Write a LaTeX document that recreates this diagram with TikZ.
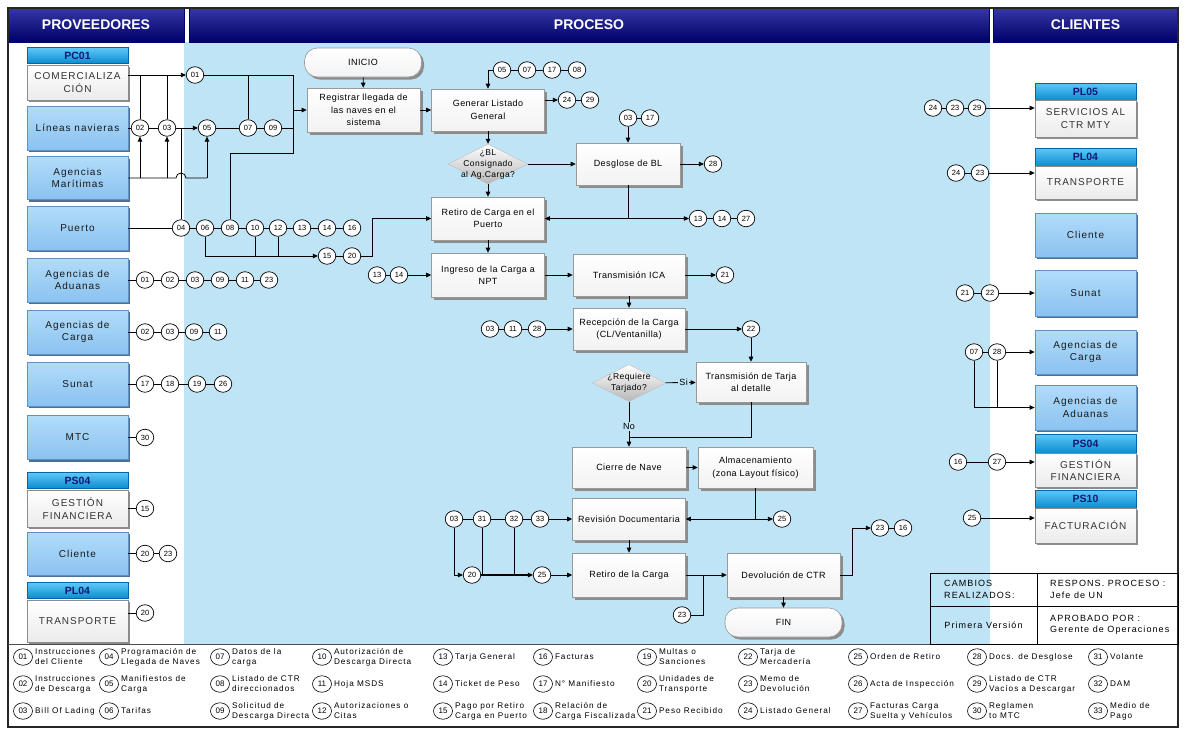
\documentclass[tikz,border=0pt]{standalone}
\usepackage{fontspec}
\setmainfont{Liberation Sans}
\newfontfamily\boxfont[LetterSpace=10]{Liberation Sans}
\newfontfamily\procfont[LetterSpace=5]{Liberation Sans}
\newfontfamily\legfont[LetterSpace=12]{Liberation Sans}
\usetikzlibrary{arrows.meta,shapes.geometric,shadows}

\definecolor{procbg}{RGB}{190,228,246}
\definecolor{hdrtop}{RGB}{55,55,165}
\definecolor{hdrbot}{RGB}{0,0,105}
\definecolor{supTop}{RGB}{178,220,250}
\definecolor{supBot}{RGB}{138,194,240}
\definecolor{supEdge}{RGB}{95,145,195}
\definecolor{supShadow}{RGB}{80,110,150}
\definecolor{tabTop}{RGB}{95,200,245}
\definecolor{tabBot}{RGB}{10,140,210}
\definecolor{tabEdge}{RGB}{0,100,170}
\definecolor{tabText}{RGB}{15,25,115}

\tikzset{
  conn/.style={line width=0.8pt, draw=black},
  arr/.style={conn, -{Triangle[length=5pt,width=4.5pt]}},
  hdr/.style={rectangle, top color=hdrtop, bottom color=hdrbot, draw=hdrbot,
    minimum height=34pt, text=white, inner sep=0pt,
    font=\bfseries\fontsize{14}{16}\selectfont},
  sup/.style={rectangle, top color=supTop, bottom color=supBot, draw=supEdge,
    line width=0.8pt, minimum width=101pt, minimum height=44pt, align=center,
    inner sep=1pt, text=black!90, font=\boxfont\fontsize{10}{12.5}\selectfont,
    drop shadow={shadow xshift=2pt,shadow yshift=-2pt,fill=supShadow,opacity=1}},
  tab/.style={rectangle, top color=tabTop, bottom color=tabBot, draw=tabEdge,
    line width=0.6pt, minimum width=101pt, minimum height=16pt, inner sep=0pt,
    text=tabText, font=\bfseries\fontsize{10.5}{12}\selectfont},
  unit/.style={rectangle, top color=white, bottom color=black!8, draw=black!45,
    line width=0.6pt, minimum width=101pt, align=center, inner sep=1pt,
    text=black!80, font=\boxfont\fontsize{10}{12.5}\selectfont,
    drop shadow={shadow xshift=2pt,shadow yshift=-2pt,fill=black!45,opacity=1}},
  proc/.style={rectangle, top color=white, bottom color=black!5, draw=black!40,
    line width=0.6pt, minimum width=113pt, minimum height=42pt, align=center,
    inner sep=1pt, font=\procfont\fontsize{9}{12.5}\selectfont,
    drop shadow={shadow xshift=2.5pt,shadow yshift=-2.5pt,fill=black!45,opacity=1}},
  term/.style={proc, rounded corners=13pt, minimum width=117pt, minimum height=29pt},
  dec/.style={diamond, aspect=2, top color=white, bottom color=black!28,
    draw=black!25, line width=0.4pt, inner sep=0pt},
  dectext/.style={align=center, inner sep=0pt, font=\procfont\fontsize{8.5}{11}\selectfont},
  badge/.style={ellipse, draw=black, line width=0.7pt, fill=white, minimum width=17.5pt,
    minimum height=16.5pt, inner sep=0pt, font=\fontsize{7.5}{8}\selectfont},
  lgc/.style={badge, minimum width=19pt, minimum height=16.5pt, line width=0.6pt,
    font=\fontsize{8}{8}\selectfont},
  lgt/.style={anchor=west, align=left, inner sep=1pt, font=\legfont\fontsize{8.2}{10}\selectfont},
  tbl/.style={align=left, inner sep=0pt, font=\legfont\fontsize{9}{11.5}\selectfont},
  lbl/.style={fill=procbg, inner sep=1pt, font=\procfont\fontsize{9}{10}\selectfont},
}

\begin{document}
\begin{tikzpicture}[x=1pt,y=-1pt]
\useasboundingbox (0,0) rectangle (1189,729);

% ---------- background and frame ----------
\fill[white] (0,0) rectangle (1189,729);
\fill[procbg] (184,42) rectangle (990,644);

\node[hdr, minimum width=176pt] (hprov) at (96,25) {PROVEEDORES};
\node[hdr, minimum width=800pt] (hproc) at (589,25) {PROCESO};
\node[hdr, minimum width=185pt] (hcli) at (1085.5,25) {CLIENTES};

\draw[line width=1.2pt, black!85] (8,8) rectangle (1178,727);
\draw[line width=0.9pt, black!70] (8,644) -- (1178,644);

% ---------- suppliers ----------
\node[tab] (pc01) at (77.5,55.5) {PC01};
\node[unit, minimum height=35pt] (com) at (77.5,82.5) {COMERCIALIZA\\CIÓN};
\node[sup] (lin) at (77.5,128) {Líneas navieras};
\node[sup, minimum height=43pt] (agm) at (77.5,178) {Agencias\\Marítimas};
\node[sup] (pto) at (77.5,228) {Puerto};
\node[sup] (adu) at (77.5,280) {Agencias de\\Aduanas};
\node[sup] (car) at (77.5,332) {Agencias de\\Carga};
\node[sup] (sun) at (77.5,384) {Sunat};
\node[sup] (mtc) at (77.5,437.5) {MTC};
\node[tab] (ps04a) at (77.5,480.5) {PS04};
\node[unit, minimum height=37pt] (gfa) at (77.5,508.5) {GESTIÓN\\FINANCIERA};
\node[sup, minimum height=43pt] (cla) at (77.5,553.5) {Cliente};
\node[tab] (pl04a) at (77.5,590.5) {PL04};
\node[unit, minimum height=42pt] (tra) at (77.5,621) {TRANSPORTE};

% supplier inputs
\node[badge] (a01) at (195,75) {01};
\node[badge] (l02) at (140,128) {02};
\node[badge] (l03) at (167,128) {03};
\node[badge] (l05) at (207,128) {05};
\node[badge] (l07) at (248,128) {07};
\node[badge] (l09) at (273,128) {09};

\node[badge] (p04) at (181,228) {04};
\node[badge] (p06) at (205,228) {06};
\node[badge] (p08) at (230,228) {08};
\node[badge] (p10) at (255,228) {10};
\node[badge] (p12) at (278,228) {12};
\node[badge] (p13) at (302,228) {13};
\node[badge] (p14) at (327,228) {14};
\node[badge] (p16) at (352,228) {16};
\node[badge] (q15) at (327,256) {15};
\node[badge] (q20) at (352,256) {20};

\node[badge] (d01) at (145,280) {01};
\node[badge] (d02) at (170,280) {02};
\node[badge] (d03) at (195,280) {03};
\node[badge] (d09) at (220,280) {09};
\node[badge] (d11) at (245,280) {11};
\node[badge] (d23) at (269,280) {23};

\node[badge] (g02) at (145,332) {02};
\node[badge] (g03) at (170,332) {03};
\node[badge] (g09) at (194,332) {09};
\node[badge] (g11) at (218,332) {11};

\node[badge] (s17) at (145,384) {17};
\node[badge] (s18) at (170,384) {18};
\node[badge] (s19) at (197,384) {19};
\node[badge] (s26) at (223,384) {26};

\node[badge] (m30) at (145,437.5) {30};
\node[badge] (f15) at (145,508.5) {15};
\node[badge] (k20) at (145,553.5) {20};
\node[badge] (k23) at (168,553.5) {23};
\node[badge] (t20) at (145,613) {20};

% ---------- process ----------
\node[term] (ini) at (363,62.5) {INICIO};
\node[proc, minimum height=44pt] (reg) at (363.5,110) {Registrar llegada de\\las naves en el\\sistema};
\node[proc] (gen) at (488,110) {Generar Listado\\General};
\node[dec, minimum width=80pt, minimum height=40pt] (dbl) at (488,164) {};
\node[dectext] (dblt) at (dbl) {¿BL\\Consignado\\al Ag.Carga?};
\node[proc, minimum width=104pt] (des) at (628,164) {Desglose de BL};
\node[proc, minimum height=43pt] (ret) at (488,218.5) {Retiro de Carga en el\\Puerto};
\node[proc, minimum height=44pt] (ing) at (488,275) {Ingreso de la Carga a\\NPT};
\node[proc, minimum width=112pt] (ica) at (629,275) {Transmisión ICA};
\node[proc, minimum width=112pt] (rec) at (629,329) {Recepción de la Carga\\(CL/Ventanilla)};
\node[dec, minimum width=74pt, minimum height=37pt] (dtj) at (629,383) {};
\node[dectext] (dtjt) at (dtj) {¿Requiere\\Tarjado?};
\node[proc, minimum width=110pt, minimum height=40pt] (tar) at (751,382) {Transmisión de Tarja\\al detalle};
\node[proc, minimum width=114pt, minimum height=41pt] (cie) at (629,467.5) {Cierre de Nave};
\node[proc, minimum width=115pt, minimum height=41pt] (alm) at (755.5,467.5) {Almacenamiento\\(zona Layout físico)};
\node[proc] (rev) at (629,519) {Revisión Documentaria};
\node[proc, minimum height=44pt] (rtc) at (629,575) {Retiro de la Carga};
\node[proc, minimum height=44pt] (dev) at (783.5,575) {Devolución de CTR};
\node[term] (fin) at (783.5,622.5) {FIN};

% process badges
\node[badge] (u05) at (502,70) {05};
\node[badge] (u07) at (527,70) {07};
\node[badge] (u17) at (552,70) {17};
\node[badge] (u08) at (577,70) {08};
\node[badge] (v24) at (567,100) {24};
\node[badge] (v29) at (590,100) {29};
\node[badge] (w03) at (628,118) {03};
\node[badge] (w17) at (650,118) {17};
\node[badge] (x28) at (713,164) {28};
\node[badge] (r13) at (698,218.5) {13};
\node[badge] (r14) at (722,218.5) {14};
\node[badge] (r27) at (746,218.5) {27};
\node[badge] (n13) at (377,275) {13};
\node[badge] (n14) at (399,275) {14};
\node[badge] (z21) at (725,275) {21};
\node[badge] (o03) at (490,329) {03};
\node[badge] (o11) at (513,329) {11};
\node[badge] (o28) at (537,329) {28};
\node[badge] (z22) at (751,329) {22};
\node[badge] (h03) at (454,519) {03};
\node[badge] (h31) at (482,519) {31};
\node[badge] (h32) at (514,519) {32};
\node[badge] (h33) at (540,519) {33};
\node[badge] (y25) at (782,519) {25};
\node[badge] (i20) at (472,575) {20};
\node[badge] (i25) at (542,575) {25};
\node[badge] (e23) at (682,615) {23};
\node[badge] (b23) at (880,528) {23};
\node[badge] (b16) at (903,528) {16};

% ---------- clients ----------
\node[tab, minimum height=17pt] (pl05) at (1085.5,91.5) {PL05};
\node[unit, minimum height=37pt] (svc) at (1085.5,118.5) {SERVICIOS AL\\CTR MTY};
\node[tab, minimum height=18pt] (pl04b) at (1085.5,157) {PL04};
\node[unit, minimum height=33pt] (trb) at (1085.5,182.5) {TRANSPORTE};
\node[sup] (clb) at (1085.5,235) {Cliente};
\node[sup, minimum height=46pt] (snb) at (1085.5,293) {Sunat};
\node[sup] (cgb) at (1085.5,352) {Agencias de\\Carga};
\node[sup, minimum height=45pt] (adb) at (1085.5,407.5) {Agencias de\\Aduanas};
\node[tab, minimum height=19pt] (ps04b) at (1085.5,443.5) {PS04};
\node[unit, minimum height=34pt] (gfb) at (1085.5,470) {GESTIÓN\\FINANCIERA};
\node[tab, minimum height=18pt] (ps10) at (1085.5,499) {PS10};
\node[unit, minimum height=35pt] (fac) at (1085.5,525.5) {FACTURACIÓN};

\node[badge] (c24a) at (933,108) {24};
\node[badge] (c23a) at (955,108) {23};
\node[badge] (c29a) at (977,108) {29};
\node[badge] (c24b) at (956,173) {24};
\node[badge] (c23b) at (980,173) {23};
\node[badge] (c21) at (965,293) {21};
\node[badge] (c22) at (990,293) {22};
\node[badge] (c07) at (974,352) {07};
\node[badge] (c28) at (997,352) {28};
\node[badge] (c16) at (958,462) {16};
\node[badge] (c27) at (997,462) {27};
\node[badge] (c25) at (972,518) {25};

% ---------- connectors: suppliers ----------
\coordinate (j1) at (293,75);
\coordinate (j2) at (293,153);
\coordinate (j3) at (230,153);
\coordinate (k1) at (181,128);
\coordinate (k2) at (372,256);

\draw[arr] (com.east |- a01) -- (a01);
\draw[conn] (a01) -- (j1) -- (j2) -- (j3) -- (p08);
\draw[arr] (j1 |- reg) -- (reg);
\draw[conn] (l02 |- a01) -- (l02);
\draw[conn] (l03 |- a01) -- (l03);
\draw[conn] (l07 |- a01) -- (l07);
\draw[conn] (lin) -- (l02) -- (l03);
\draw[arr] (l03) -- (l05);
\draw[conn] (l05) -- (l07) -- (l09) -- (l09 -| j1);
\draw[conn] (k1) -- (p04);
\draw[conn] (agm.east) -- (176,178) arc[start angle=180,end angle=0,radius=5pt] -- (l05 |- agm);
\draw[arr] (l05 |- agm) -- (l05);
\draw[arr] (l02 |- agm) -- (l02);
\draw[arr] (l03 |- agm) -- (l03);

\draw[conn] (pto) -- (p04) -- (p06) -- (p08) -- (p10) -- (p12) -- (p13) -- (p14) -- (p16);
\draw[arr] (p06) |- (q15);
\draw[conn] (p10) -- (p10 |- q15);
\draw[conn] (p12) -- (p12 |- q15);
\draw[conn] (q15) -- (q20);
\draw[arr] (q20) -- (k2) |- (ret);

\draw[conn] (adu) -- (d01) -- (d02) -- (d03) -- (d09) -- (d11) -- (d23);
\draw[conn] (car) -- (g02) -- (g03) -- (g09) -- (g11);
\draw[conn] (sun) -- (s17) -- (s18) -- (s19) -- (s26);
\draw[conn] (mtc) -- (m30);
\draw[conn] (gfa) -- (f15);
\draw[conn] (cla) -- (k20) -- (k23);
\draw[conn] (tra.east |- t20) -- (t20);

% ---------- connectors: process ----------
\coordinate (j4) at (des |- ret);
\coordinate (j5) at (629,437);
\coordinate (j6) at (alm |- rev);
\coordinate (j7) at (703,575);
\coordinate (j8) at (852,575);

\draw[arr] (ini) -- (reg);
\draw[arr] (reg) -- (gen);
\draw[conn] (u05) -- (u07) -- (u17) -- (u08);
\draw[arr] (u05) -| (gen);
\draw[arr] (gen.east |- v24) -- (v24);
\draw[conn] (v24) -- (v29);
\draw[arr] (gen) -- (dbl);
\draw[arr] (dbl) -- (des);
\draw[arr] (dbl) -- (ret);
\draw[conn] (w03) -- (w17);
\draw[arr] (w03) -- (des);
\draw[arr] (des) -- (x28);
\draw[conn] (des) -- (j4);
\draw[arr] (j4) -- (ret);
\draw[arr] (j4) -- (r13);
\draw[conn] (r13) -- (r14) -- (r27);
\draw[arr] (ret) -- (ing);
\draw[conn] (n13) -- (n14);
\draw[arr] (n14) -- (ing);
\draw[arr] (ing) -- (ica);
\draw[arr] (ica) -- (z21);
\draw[arr] (ica) -- (rec);
\draw[conn] (o03) -- (o11) -- (o28);
\draw[arr] (o28) -- (rec);
\draw[arr] (rec) -- (z22);
\draw[arr] (z22) -- (tar);
\draw[arr] (dtj) -- node[lbl, pos=0.6] (lsi) {Si} (tar);
\draw[arr] (dtj) -- node[lbl, pos=0.55] (lno) {No} (cie);
\draw[conn] (tar) |- (j5);
\draw[arr] (cie) -- (alm);
\draw[conn] (alm) -- (j6);
\draw[arr] (j6) -- (rev);
\draw[arr] (j6) -- (y25);
\draw[conn] (h03) -- (h31) -- (h32) -- (h33);
\draw[arr] (h33) -- (rev);
\draw[arr] (rev) -- (rtc);
\draw[arr] (h03) |- (i20);
\draw[conn] (h31) -- (h31 |- i20);
\draw[conn] (h32) -- (h32 |- i20);
\draw[arr, line width=1.1pt] (i20) -- (i25);
\draw[arr] (i25) -- (rtc);
\draw[arr] (rtc) -- (dev);
\draw[conn] (e23) -| (j7);
\draw[arr] (dev) -- (fin);
\draw[arr] (dev) -- (j8) |- (b23);
\draw[conn] (b23) -- (b16);

% ---------- connectors: clients ----------
\draw[conn] (c24a) -- (c23a) -- (c29a);
\draw[arr] (c29a) -- (svc.west |- c29a);
\draw[conn] (c24b) -- (c23b);
\draw[arr] (c23b) -- (trb.west |- c23b);
\draw[conn] (c21) -- (c22);
\draw[arr] (c22) -- (snb);
\draw[conn] (c07) -- (c28);
\draw[arr] (c28) -- (cgb);
\draw[arr] (c07) |- (adb);
\draw[conn] (c28) -- (c28 |- adb);
\draw[conn] (c16) -- (c27);
\draw[arr] (c27) -- (gfb.west |- c27);
\draw[arr] (c25) -- (fac.west |- c25);

% ---------- revision table ----------
\coordinate (tbA) at (930,573);
\coordinate (tbB) at (1178,644);
\draw[line width=0.7pt] (tbA) rectangle (tbB);
\draw[line width=0.7pt] (1037,573) -- (1037,644);
\draw[line width=0.7pt] (930,606) -- (1178,606);
\node[tbl, anchor=west] (tc1) at (944,589.5) {CAMBIOS\\REALIZADOS:};
\node[tbl, anchor=west] (tc2) at (1050,589.5) {RESPONS. PROCESO :\\Jefe de UN};
\node[tbl] (tc3) at (983.5,625) {Primera Versión};
\node[tbl, anchor=west] (tc4) at (1050,625) {APROBADO POR :\\Gerente de Operaciones};

% ---------- legend ----------
\foreach \n/\x/\y/\t in {
  01/23/657/{Instrucciones\\del Cliente},
  02/23/684/{Instrucciones\\de Descarga},
  03/23/711/{Bill Of Lading},
  04/109/657/{Programación de\\Llegada de Naves},
  05/109/684/{Manifiestos de\\Carga},
  06/109/711/{Tarifas},
  07/220/657/{Datos de la\\carga},
  08/220/684/{Listado de CTR\\direccionados},
  09/220/711/{Solicitud de\\Descarga Directa},
  10/322/657/{Autorización de\\Descarga Directa},
  11/322/684/{Hoja MSDS},
  12/322/711/{Autorizaciones o\\Citas},
  13/443/657/{Tarja General},
  14/443/684/{Ticket de Peso},
  15/443/711/{Pago por Retiro\\Carga en Puerto},
  16/543/657/{Facturas},
  17/543/684/{N° Manifiesto},
  18/543/711/{Relación de\\Carga Fiscalizada},
  19/647/657/{Multas o\\Sanciones},
  20/647/684/{Unidades de\\Transporte},
  21/647/711/{Peso Recibido},
  22/748/657/{Tarja de\\Mercadería},
  23/748/684/{Memo de\\Devolución},
  24/748/711/{Listado General},
  25/858/657/{Orden de Retiro},
  26/858/684/{Acta de Inspección},
  27/858/711/{Facturas Carga\\Suelta y Vehículos},
  28/977/657/{Docs. de Desglose},
  29/977/684/{Listado de CTR\\Vacíos a Descargar},
  30/977/711/{Reglamen\\to MTC},
  31/1098/657/{Volante},
  32/1098/684/{DAM},
  33/1098/711/{Medio de\\Pago}}{
  \node[lgc] (L\n) at (\x,\y) {\n};
  \node[lgt] (T\n) at ([xshift=1pt]L\n.east) {\t};
}
\end{tikzpicture}
\end{document}
